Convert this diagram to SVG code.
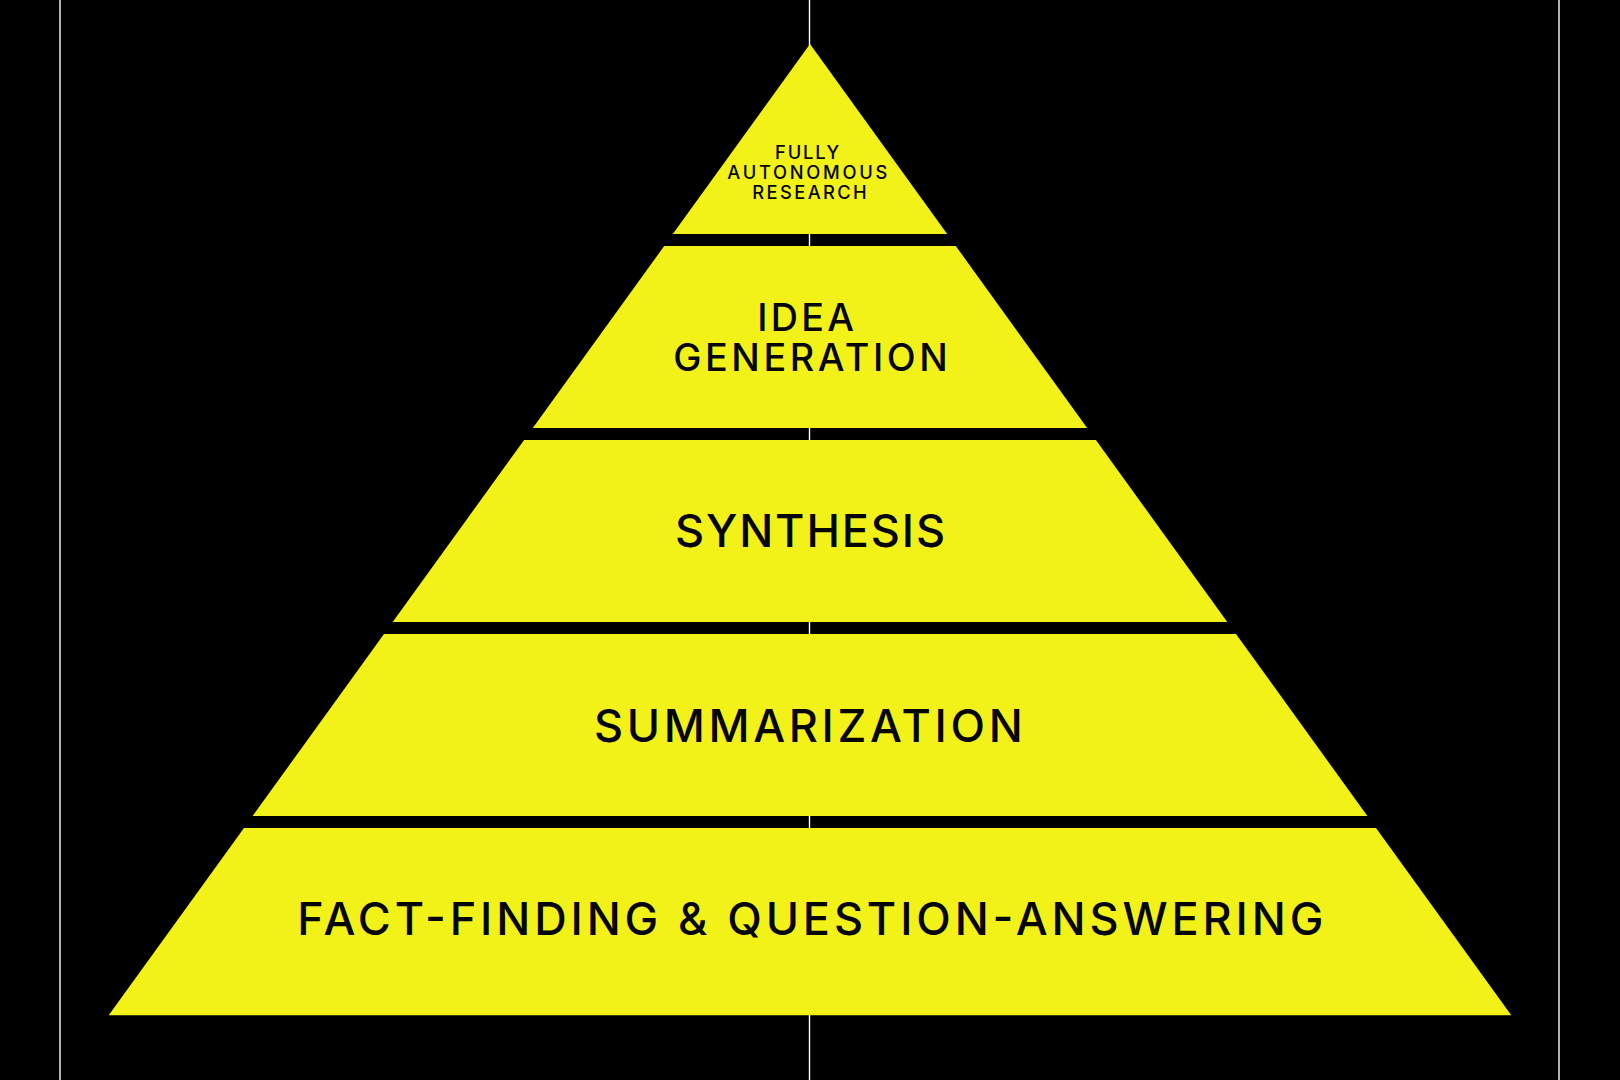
<svg xmlns="http://www.w3.org/2000/svg" width="1620" height="1080" viewBox="0 0 1620 1080">
<style>
.tier{fill:#F2F219;}
.guide{stroke:#FFFFFF;stroke-width:1.4;fill:none;}
.lbl{font-family:Inter,"Noto Sans","Liberation Sans",sans-serif;font-weight:500;fill:#050505;}
.big{font-size:45px;}
.mid{font-size:37.7px;}
.small{font-size:18.3px;}
</style>
<rect x="0" y="0" width="1620" height="1080" fill="#000000"/>
<g id="guides">
<line class="guide" x1="60" y1="0" x2="60" y2="1080"/>
<line class="guide" x1="809.5" y1="0" x2="809.5" y2="1080"/>
<line class="guide" x1="1559" y1="0" x2="1559" y2="1080"/>
</g>
<g id="tier1">
<polygon class="tier" points="810,44 947.2,234 672.8,234"/>
<text class="lbl small" x="775" y="159.3" textLength="64.3" lengthAdjust="spacing">FULLY</text>
<text class="lbl small" x="727.3" y="179.3" textLength="160" lengthAdjust="spacing">AUTONOMOUS</text>
<text class="lbl small" x="752.3" y="199.3" textLength="114.4" lengthAdjust="spacing">RESEARCH</text>
</g>
<g id="tier2">
<polygon class="tier" points="664.2,246 955.8,246 1087.2,428 532.8,428"/>
<text class="lbl mid" x="757.3" y="330.7" textLength="96.7" lengthAdjust="spacing">IDEA</text>
<text class="lbl mid" x="673.3" y="370.7" textLength="274.4" lengthAdjust="spacing">GENERATION</text>
</g>
<g id="tier3">
<polygon class="tier" points="524.1,440 1095.9,440 1227.3,622 392.7,622"/>
<text class="lbl big" x="675" y="546.7" textLength="270" lengthAdjust="spacing">SYNTHESIS</text>
</g>
<g id="tier4">
<polygon class="tier" points="384,634 1236,634 1367.4,816 252.6,816"/>
<text class="lbl big" x="594" y="741.7" textLength="428.7" lengthAdjust="spacing">SUMMARIZATION</text>
</g>
<g id="tier5">
<polygon class="tier" points="244,828 1376,828 1511.3,1015.3 108.7,1015.3"/>
<text class="lbl big" x="297.3" y="935.3" textLength="1026" lengthAdjust="spacing">FACT-FINDING &amp; QUESTION-ANSWERING</text>
</g>
</svg>
